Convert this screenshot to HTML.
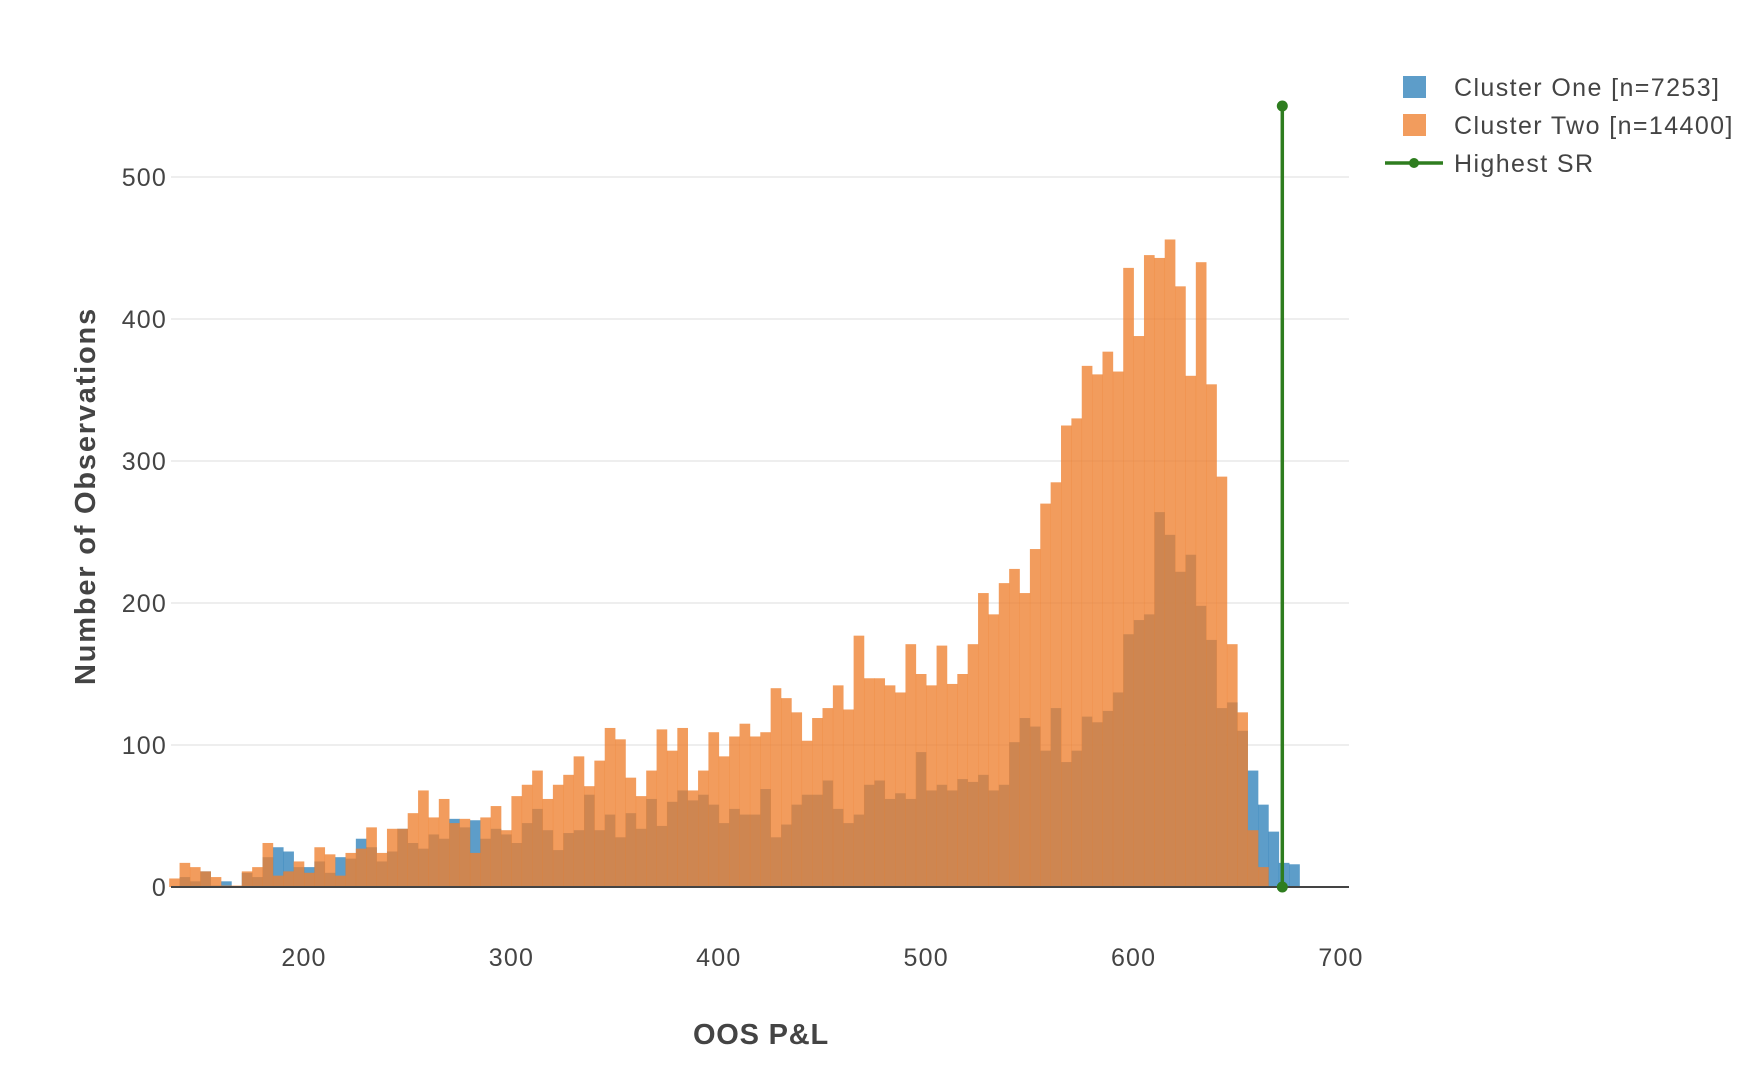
<!DOCTYPE html>
<html><head><meta charset="utf-8"><style>
html,body{margin:0;padding:0;background:#fff;}
svg{display:block;font-family:"Liberation Sans",Arial,sans-serif;}
</style></head><body>
<svg id="chart" width="1764" height="1072" viewBox="0 0 1764 1072">
<g id="grid"></g>
<g id="bars-blue"></g>
<g id="bars-orange"></g>
<g id="axes"></g>
<g id="marker"></g>
<text x="761" y="1044" text-anchor="middle" font-size="29" font-weight="bold" fill="#444" letter-spacing="0.8">OOS P&amp;L</text>
<text transform="translate(95,496) rotate(-90)" text-anchor="middle" font-size="29" font-weight="bold" fill="#444" letter-spacing="1.8">Number of Observations</text>
<g>
<rect x="1403" y="76" width="23" height="22" fill="#1f77b4" fill-opacity="0.72"/>
<text x="1454" y="96" font-size="25" fill="#444" letter-spacing="1.4">Cluster One [n=7253]</text>
<rect x="1403" y="114" width="23" height="22" fill="#ee802f" fill-opacity="0.78"/>
<text x="1454" y="134" font-size="25" fill="#444" letter-spacing="1.4">Cluster Two [n=14400]</text>
<line x1="1385" y1="163" x2="1443" y2="163" stroke="#2e7d1f" stroke-width="3.5"/>
<circle cx="1414" cy="163" r="5" fill="#2e7d1f"/>
<text x="1454" y="172" font-size="25" fill="#444" letter-spacing="1.4">Highest SR</text>
</g>
</svg>
<script>
const binStart = 135;
const binSize = 5;
const clusterTwo = [6,17,14,11,7,1,1,11,14,31,8,11,18,10,28,23,8,24,27,42,24,41,41,52,68,49,62,45,48,24,49,57,40,64,72,82,62,72,79,92,71,89,112,104,77,64,82,111,96,112,68,82,109,92,106,115,106,109,140,133,123,103,119,126,142,125,177,147,147,142,137,171,150,142,170,143,150,171,207,192,214,224,207,238,270,285,325,330,367,361,377,363,436,388,445,443,456,423,360,440,354,289,171,123,40,14,0,0,0];
const clusterOne = [0,7,4,11,1,4,0,10,7,21,28,25,14,14,18,10,21,20,34,28,18,25,41,31,27,37,34,48,42,47,34,41,37,31,45,55,40,26,38,40,65,40,51,35,52,41,62,43,60,68,61,65,58,45,55,51,51,69,35,44,58,65,65,75,55,45,51,72,75,62,66,62,95,68,72,68,76,74,79,68,72,102,119,113,96,126,88,96,120,116,124,137,178,188,192,264,248,222,234,198,174,126,130,110,82,58,39,17,16];
const xTicks = [200,300,400,500,600,700];
const yTicks = [0,100,200,300,400,500];
const highestSR = 671.7;
const highestSRTop = 550;

const NS = "http://www.w3.org/2000/svg";
const plotL = 171, plotR = 1349;
function xs(v){ return 304 + (v - 200) * 2.074; }
function ys(v){ return 887 - v * 1.42; }
function mk(tag, attrs, parent){
  const e = document.createElementNS(NS, tag);
  for (const k in attrs) e.setAttribute(k, attrs[k]);
  parent.appendChild(e);
  return e;
}
const grid = document.getElementById('grid');
const axes = document.getElementById('axes');
yTicks.forEach(t => {
  if (t > 0) {
    const g = mk('line', {x1:plotL, x2:plotR, y1:ys(t), y2:ys(t), stroke:'#e8e8e8', 'stroke-width':1.5}, grid);
    
    
  }
  const lb = mk('text', {x:167, y:ys(t)+9, 'text-anchor':'end', 'font-size':25, 'letter-spacing':1.2, fill:'#444'}, axes);
  lb.textContent = t;
  
  
});
xTicks.forEach(t => {
  const lb = mk('text', {x:xs(t), y:966, 'text-anchor':'middle', 'font-size':25, 'letter-spacing':1.2, fill:'#444'}, axes);
  lb.textContent = t;
  
  
});
function drawBars(arr, gid, color, op, name){
  const g = document.getElementById(gid);
  arr.forEach((v, i) => {
    if (v <= 0) return;
    const x0 = xs(binStart + i*binSize), x1 = xs(binStart + (i+1)*binSize);
    const r = mk('rect', {x:x0, y:ys(v), width:x1-x0+0.3, height:ys(0)-ys(v), fill:color, 'fill-opacity':op}, g);
    
    
  });
}
drawBars(clusterOne, 'bars-blue', '#1f77b4', 0.72, 'cluster-one');
drawBars(clusterTwo, 'bars-orange', '#ee802f', 0.78, 'cluster-two');
const ax = mk('line', {x1:plotL, x2:plotR, y1:ys(0), y2:ys(0), stroke:'#444', 'stroke-width':2}, axes);


const m = document.getElementById('marker');
const ln = mk('line', {x1:xs(highestSR), x2:xs(highestSR), y1:ys(0), y2:ys(highestSRTop), stroke:'#2e7d1f', 'stroke-width':3.5}, m);


[0, highestSRTop].forEach(v => {
  const c = mk('circle', {cx:xs(highestSR), cy:ys(v), r:5.5, fill:'#2e7d1f'}, m);
  
  
});
</script>
</body></html>
